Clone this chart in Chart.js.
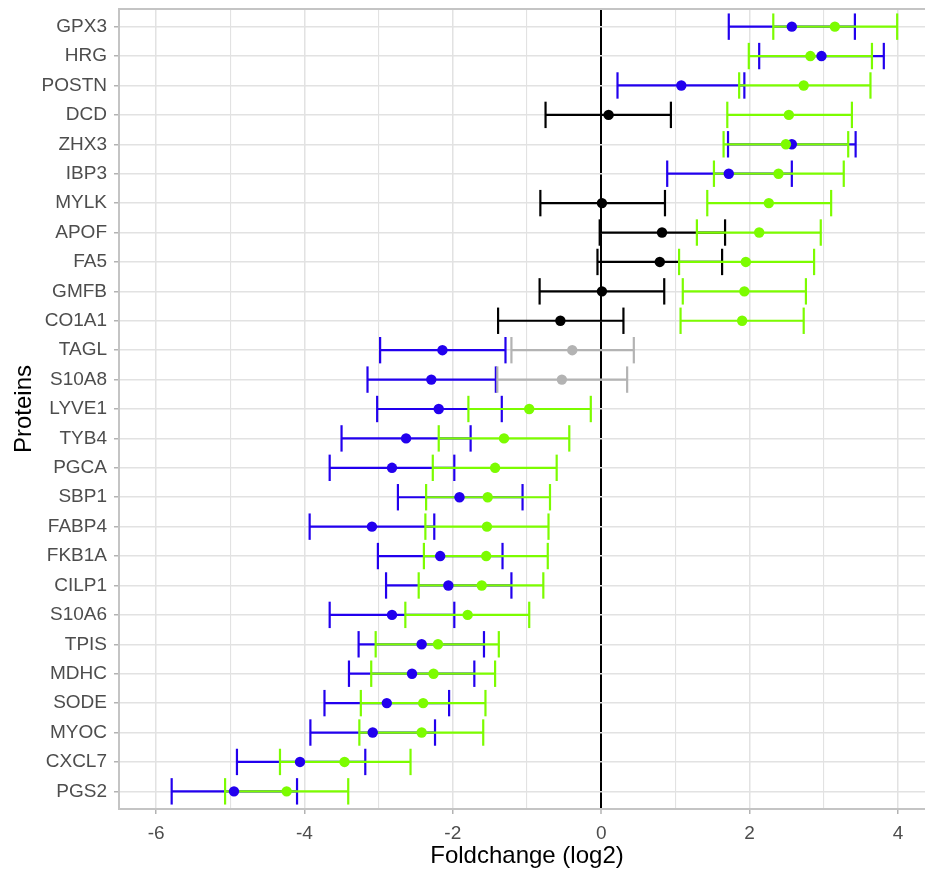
<!DOCTYPE html>
<html>
<head>
<meta charset="utf-8">
<style>
  html, body { margin: 0; padding: 0; background: #ffffff; overflow: hidden; }
  #wrap { position: absolute; left: 0; top: 0; width: 935px; height: 870px; }
</style>
<script src="https://cdn.jsdelivr.net/npm/chart.js@4/dist/chart.umd.min.js"></script>
</head>
<body>
<div id="wrap"><canvas id="c"></canvas></div>
<script>
// ---------- data ----------
const proteins = ['GPX3','HRG','POSTN','DCD','ZHX3','IBP3','MYLK','APOF','FA5','GMFB','CO1A1','TAGL','S10A8','LYVE1','TYB4','PGCA','SBP1','FABP4','FKB1A','CILP1','S10A6','TPIS','MDHC','SODE','MYOC','CXCL7','PGS2'];

// first comparison (blue when significant, black otherwise)
const fcA = [2.57, 2.97, 1.08, 0.10, 2.57, 1.72, 0.01, 0.82, 0.79, 0.01, -0.55, -2.14, -2.29, -2.19, -2.63, -2.82, -1.91, -3.09, -2.17, -2.06, -2.82, -2.42, -2.55, -2.89, -3.08, -4.06, -4.95];
const loA = [1.72, 2.13, 0.22, -0.75, 1.71, 0.89, -0.82, -0.02, -0.05, -0.83, -1.39, -2.98, -3.15, -3.02, -3.50, -3.66, -2.74, -3.93, -3.01, -2.90, -3.66, -3.27, -3.40, -3.73, -3.92, -4.91, -5.79];
const hiA = [3.42, 3.81, 1.93, 0.94, 3.43, 2.57, 0.86, 1.67, 1.63, 0.85, 0.30, -1.29, -1.42, -1.34, -1.76, -1.98, -1.06, -2.25, -1.33, -1.21, -1.98, -1.58, -1.71, -2.05, -2.24, -3.18, -4.10];
const sigA = [1,1,1,0,1,1,0,0,0,0,0,1,1,1,1,1,1,1,1,1,1,1,1,1,1,1,1];

// second comparison (green when significant, grey otherwise)
const fcB = [3.15, 2.82, 2.73, 2.53, 2.49, 2.39, 2.26, 2.13, 1.95, 1.93, 1.90, -0.39, -0.53, -0.97, -1.31, -1.43, -1.53, -1.54, -1.55, -1.61, -1.80, -2.20, -2.26, -2.40, -2.42, -3.46, -4.24];
const loB = [2.32, 1.99, 1.86, 1.70, 1.65, 1.52, 1.43, 1.29, 1.05, 1.10, 1.07, -1.21, -1.40, -1.79, -2.19, -2.27, -2.36, -2.37, -2.39, -2.46, -2.64, -3.04, -3.10, -3.24, -3.26, -4.33, -5.07];
const hiB = [3.99, 3.65, 3.63, 3.38, 3.33, 3.27, 3.10, 2.96, 2.87, 2.76, 2.73, 0.44, 0.35, -0.14, -0.43, -0.60, -0.69, -0.71, -0.72, -0.78, -0.97, -1.38, -1.43, -1.56, -1.59, -2.57, -3.41];
const sigB = [1,1,1,1,1,1,1,1,1,1,1,0,0,1,1,1,1,1,1,1,1,1,1,1,1,1,1];

const xGridValues = [-6,-5,-4,-3,-2,-1,0,1,2,3,4];
const xTickLabels = ['-6','','-4','','-2','','0','','2','','4'];

// ---------- styling ----------
const BLUE = '#2200EE', BLACK = '#000000', GREEN = '#7CFC00', GREY = '#B3B3B3';
const colA = sigA.map(s => s ? BLUE : BLACK);
const colB = sigB.map(s => s ? GREEN : GREY);
const FONT = '"Liberation Sans", Arial, Helvetica, sans-serif';

function barData(lo, hi) {
  const d = [];
  lo.forEach((l, i) => {
    d.push({x: l, y: i + 1});
    d.push({x: hi[i], y: i + 1});
    d.push({x: null, y: null});
  });
  return d;
}
function ptData(fc) { return fc.map((v, i) => ({x: v, y: i + 1})); }

function barDataset(lo, hi, cols, order) {
  return {
    type: 'line',
    data: barData(lo, hi),
    order: order,
    showLine: true,
    spanGaps: false,
    borderWidth: 2.2,
    borderColor: cols[0],
    segment: { borderColor: ctx => cols[Math.floor(ctx.p0DataIndex / 3)] },
    pointStyle: 'line',
    rotation: 90,
    pointRadius: 13.2,
    pointHoverRadius: 13.2,
    pointBorderWidth: 2.2,
    pointHoverBorderWidth: 2.2,
    pointBorderColor: ctx => cols[Math.floor(ctx.dataIndex / 3)],
    pointBackgroundColor: ctx => cols[Math.floor(ctx.dataIndex / 3)],
    fill: false,
    tension: 0
  };
}
function ptDataset(fc, cols, order) {
  return {
    type: 'scatter',
    data: ptData(fc),
    order: order,
    pointStyle: 'circle',
    pointRadius: 5.2,
    pointHoverRadius: 5.2,
    pointBorderWidth: 0,
    pointBackgroundColor: cols,
    pointBorderColor: cols
  };
}

const panelBorder = {
  id: 'panelBorder',
  afterDatasetsDraw(chart) {
    const {ctx, chartArea: a} = chart;
    ctx.save();
    ctx.strokeStyle = '#C4C4C4';
    ctx.lineWidth = 2;
    ctx.strokeRect(a.left, a.top, a.right - a.left, a.bottom - a.top);
    ctx.restore();
  }
};

new Chart(document.getElementById('c'), {
  type: 'scatter',
  data: {
    datasets: [
      ptDataset(fcB, colB, 1),
      ptDataset(fcA, colA, 2),
      barDataset(loB, hiB, colB, 3),
      barDataset(loA, hiA, colA, 4)
    ]
  },
  options: {
    responsive: true,
    maintainAspectRatio: false,
    animation: false,
    events: [],
    layout: { autoPadding: false, padding: { top: 9, left: 0, right: 0, bottom: 0 } },
    plugins: { legend: { display: false }, tooltip: { enabled: false } },
    scales: {
      x: {
        type: 'linear',
        min: -6.5, max: 4.5,
        afterBuildTicks: s => { s.ticks = xGridValues.map(v => ({value: v})); },
        afterFit: s => { s.height = 61; s.paddingLeft = 0; s.paddingRight = 0; },
        border: { display: false },
        grid: {
          color: c => c.tick && c.tick.value === 0 ? '#000000' : '#E2E2E2',
          lineWidth: c => c.tick && c.tick.value === 0 ? 2 : (c.index % 2 === 0 ? 1.5 : 1.1),
          drawTicks: true,
          tickLength: 5,
          tickWidth: 1.5,
          tickColor: c => (xTickLabels[c.index] ? '#B3B3B3' : 'rgba(0,0,0,0)')
        },
        ticks: {
          autoSkip: false,
          maxRotation: 0,
          padding: 8,
          color: '#4D4D4D',
          font: { family: FONT, size: 19 },
          callback: (v, i) => xTickLabels[i]
        },
        title: {
          display: true,
          text: 'Foldchange (log2)',
          color: '#000000',
          font: { family: FONT, size: 24, lineHeight: 1 },
          padding: { top: 0, bottom: 1.5 }
        }
      },
      y: {
        type: 'linear',
        reverse: true,
        min: 0.4, max: 27.6,
        afterBuildTicks: s => { s.ticks = proteins.map((p, i) => ({value: i + 1})); },
        afterFit: s => { s.width = 119; s.paddingTop = 0; s.paddingBottom = 0; },
        border: { display: false },
        grid: {
          color: '#E2E2E2',
          lineWidth: 1.5,
          drawTicks: true,
          tickLength: 5,
          tickWidth: 1.5,
          tickColor: '#B3B3B3'
        },
        ticks: {
          autoSkip: false,
          padding: 7,
          color: '#4D4D4D',
          font: { family: FONT, size: 19 },
          callback: (v, i) => proteins[i]
        },
        title: {
          display: true,
          text: 'Proteins',
          color: '#000000',
          font: { family: FONT, size: 24 },
          padding: { top: 10, bottom: 0 }
        }
      }
    }
  },
  plugins: [panelBorder]
});
</script>
</body>
</html>
